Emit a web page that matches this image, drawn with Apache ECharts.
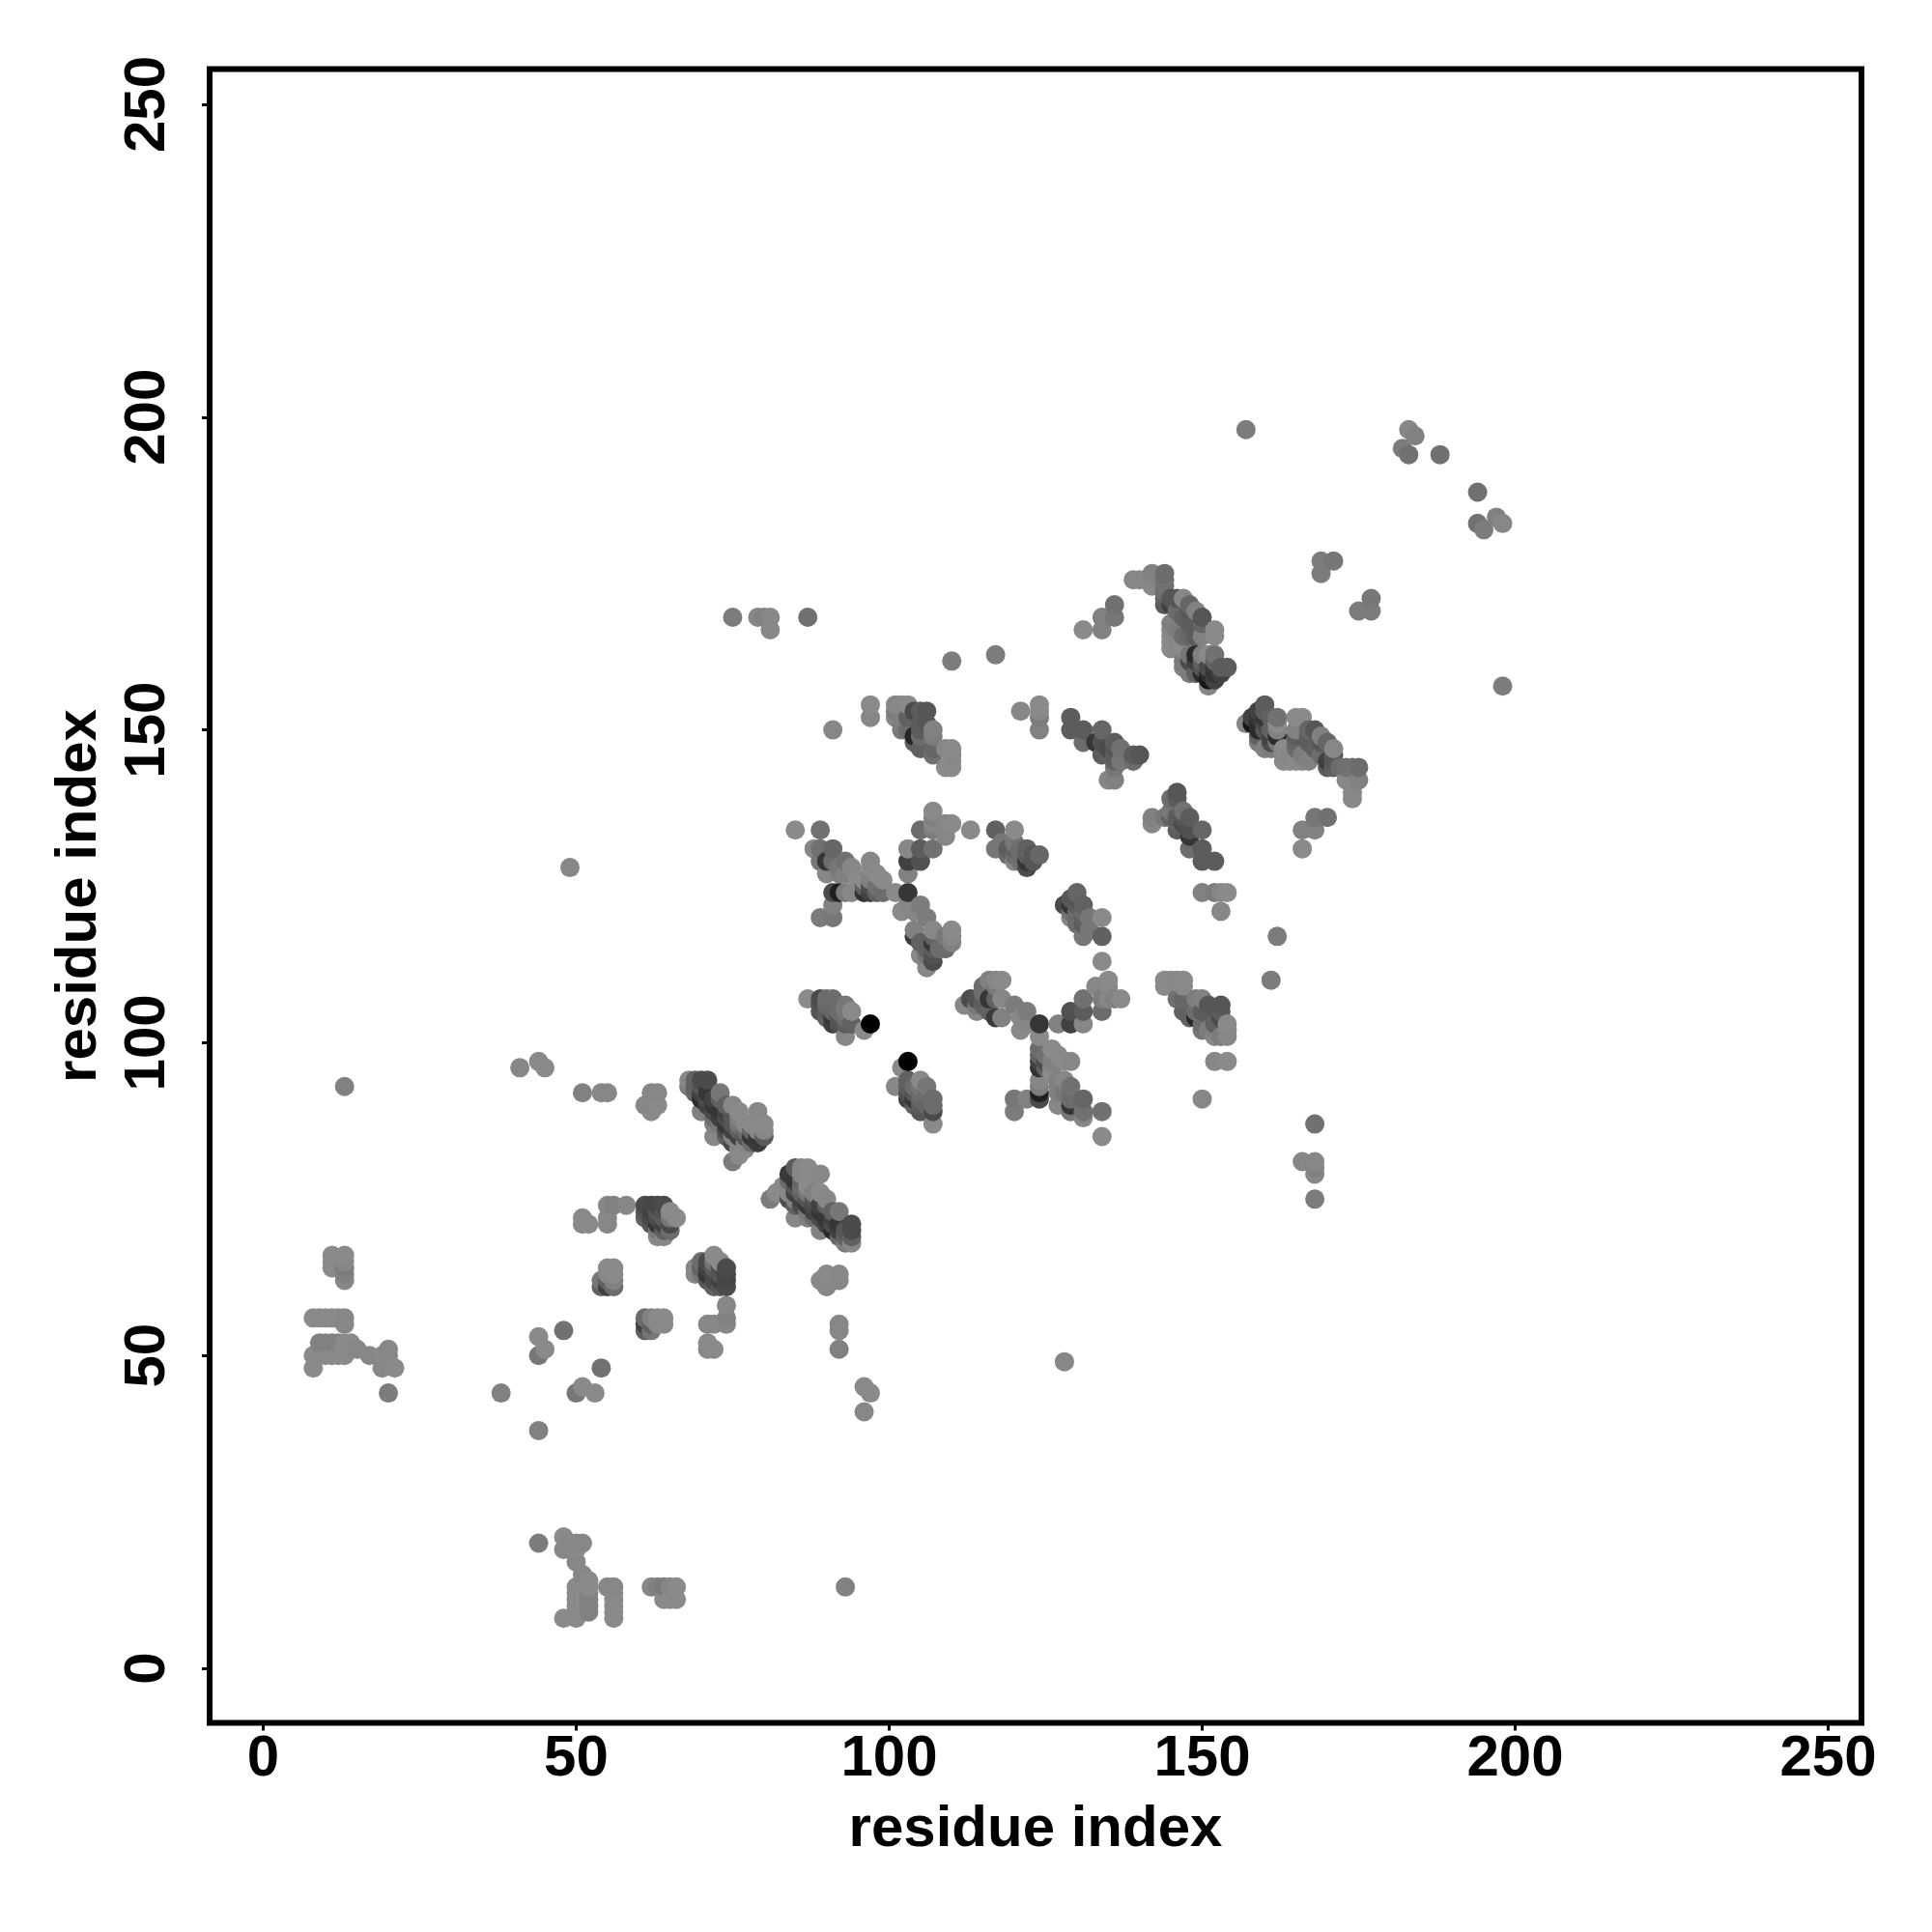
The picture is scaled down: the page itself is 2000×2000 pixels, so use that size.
<!DOCTYPE html>
<html><head><meta charset="utf-8">
<style>html,body{margin:0;padding:0;background:#fff}#c{width:2000px;height:2000px}</style>
<script src="https://cdn.jsdelivr.net/npm/echarts@6/dist/echarts.min.js"></script>
</head><body><div id="c"></div>
<script>
const axisTicks = [0, 50, 100, 150, 200, 250];
const axisTitle = 'residue index';
// contacts: [residue i, residue j, level]; the map shows every contact at (i,j) and (j,i)
const contactsTermini = [[8,48,135],[8,50,135],[8,56,130],[9,50,130],[9,52,120],[9,56,130],[10,50,130],[10,52,120],[10,56,130],[11,50,130],[11,52,120],[11,56,130],[11,64,130],[11,65,130],[11,66,135],[12,50,130],[12,52,120],[12,56,130],[13,50,130],[13,51,130],[13,52,135],[13,55,125],[13,56,125],[13,62,125],[13,63,120],[13,64,115],[13,65,125],[13,66,135],[13,93,120],[14,52,130],[15,51,125],[17,50,125],[19,48,125],[19,50,130],[20,44,115],[20,49,125],[20,50,125],[20,51,125],[21,48,130],[38,44,120],[44,50,110],[44,53,130],[45,51,130],[48,54,105],[41,96,125],[44,97,130],[45,96,130],[49,128,125]];
const contactsLow = [[51,71,125],[51,72,130],[52,71,130],[55,71,125],[55,72,125],[55,74,125],[56,74,120],[58,74,125],[54,61,90],[54,62,110],[55,61,60],[55,62,90],[55,63,125],[55,64,135],[56,61,100],[56,62,120],[56,63,130],[56,64,130],[51,92,120],[54,92,125],[55,92,125],[61,90,125],[62,89,130],[62,90,125],[62,92,125],[63,90,130],[63,92,125],[61,72,90],[61,73,80],[61,74,70],[62,71,80],[62,72,70],[62,73,60],[62,74,65],[63,69,125],[63,70,110],[63,71,50],[63,72,70],[63,73,80],[63,74,65],[64,69,125],[64,70,90],[64,71,60],[64,72,85],[64,73,75],[64,74,70],[65,70,100],[65,71,70],[65,72,110],[65,73,130],[66,72,130]];
const contactsHairpin = [[68,93,115],[68,94,125],[69,92,95],[69,93,90],[69,94,90],[70,89,120],[70,91,40],[70,92,60],[70,93,80],[70,94,70],[71,90,60],[71,91,70],[71,92,50],[71,94,70],[72,85,125],[72,87,120],[72,88,100],[72,89,70],[72,90,50],[72,91,60],[73,87,110],[73,88,60],[73,89,50],[73,91,90],[73,92,110],[74,85,90],[74,86,70],[74,87,50],[74,88,70],[74,89,60],[74,90,90],[75,81,115],[75,84,70],[75,85,120],[75,86,60],[75,87,80],[75,88,80],[75,90,125],[76,82,130],[76,83,135],[76,84,125],[76,85,60],[76,86,90],[76,87,110],[76,88,120],[76,89,130],[77,83,130],[77,84,125],[77,85,80],[77,86,100],[77,87,130],[78,84,100],[78,85,50],[78,86,95],[78,87,130],[79,84,55],[79,85,50],[79,86,125],[79,87,130],[79,89,125],[80,85,85],[80,86,125],[80,87,130]];
const contactsMiddle = [[85,134,135],[89,134,105],[87,107,135],[89,105,80],[89,106,80],[89,107,70],[90,104,90],[90,105,85],[90,106,95],[90,107,100],[91,103,60],[91,104,50],[91,105,95],[91,107,100],[92,103,75],[92,104,80],[92,105,100],[92,106,100],[93,101,125],[93,103,85],[93,104,100],[93,105,110],[93,106,110],[94,103,90],[94,105,135],[96,102,130],[97,103,0],[88,131,125],[89,120,115],[89,129,110],[89,131,105],[90,127,125],[90,129,50],[91,120,110],[91,122,120],[91,124,70],[91,129,100],[91,131,95],[91,150,125],[92,124,30],[92,127,120],[92,128,110],[93,124,115],[93,127,120],[93,129,105],[94,124,125],[94,127,120],[94,128,125],[95,126,130],[96,124,45],[96,125,90],[96,126,130],[97,124,60],[97,125,70],[97,126,120],[97,127,120],[97,128,130],[97,129,125],[98,124,90],[98,125,105],[98,127,130],[99,124,100],[99,126,130],[101,124,130],[102,121,130],[103,122,125],[103,124,50],[103,127,120],[103,129,60],[103,131,125],[104,117,55],[104,118,120],[104,121,125],[105,114,125],[105,116,90],[105,122,115],[105,129,75],[105,131,85],[105,134,100],[106,112,125],[106,114,110],[106,115,90],[106,120,115],[107,113,70],[107,114,75],[107,115,85],[107,116,50],[107,117,90],[107,118,125],[107,131,105],[107,134,115],[107,135,125],[107,136,120],[107,137,130],[108,115,100],[109,115,100],[109,117,110],[109,133,125],[109,135,125],[110,116,120],[110,117,125],[110,118,130],[110,135,130],[113,134,130],[117,134,90],[120,134,135],[117,131,110],[118,132,110],[119,130,100],[119,131,85],[120,129,125],[120,130,100],[120,131,90],[120,132,110],[121,129,105],[121,130,100],[121,131,100],[122,128,70],[122,129,50],[122,130,85],[122,131,90],[123,129,80],[123,130,80],[124,130,95]];
const contactsUpper = [[121,153,125],[124,150,120],[124,152,115],[124,153,125],[124,154,130],[129,150,85],[129,152,85],[131,148,100],[131,150,85],[133,148,50],[134,146,85],[134,148,75],[134,150,95],[135,142,125],[135,146,90],[135,147,70],[136,142,120],[136,144,110],[136,145,90],[136,146,85],[136,147,80],[136,148,85],[137,145,110],[137,147,105],[139,145,100],[139,146,85],[140,146,80],[97,152,125],[97,154,135],[101,152,125],[101,153,115],[101,154,125],[102,150,110],[102,151,115],[102,152,120],[102,154,125],[103,150,100],[103,152,90],[103,154,130],[104,148,90],[104,149,35],[104,153,70],[105,147,90],[105,149,100],[105,150,85],[105,151,85],[105,153,85],[106,151,80],[106,153,80],[107,146,105],[107,147,95],[107,149,115],[107,150,120],[109,144,130],[109,147,125],[110,144,135],[110,145,130],[110,146,125],[110,147,130],[110,161,115],[117,162,115],[75,168,115],[79,168,125],[80,168,120],[81,166,125],[81,168,125],[87,168,105]];
const contactsTop = [[131,166,130],[134,166,120],[134,168,120],[136,168,110],[136,170,105],[139,174,125],[140,174,125],[142,173,125],[142,175,120],[144,170,85],[144,171,90],[144,172,100],[144,173,105],[144,174,105],[144,175,100],[145,163,130],[145,164,130],[145,165,130],[145,166,125],[145,167,120],[145,170,60],[145,171,80],[146,163,125],[146,164,125],[146,166,115],[146,169,100],[146,171,80],[147,160,120],[147,161,115],[147,163,130],[147,165,100],[147,168,90],[147,171,125],[148,159,115],[148,161,70],[148,162,110],[148,165,95],[148,167,85],[148,169,80],[148,170,95],[149,159,90],[149,161,60],[149,162,40],[149,165,85],[149,167,85],[149,169,120],[150,159,40],[150,160,80],[150,161,90],[150,162,120],[150,165,120],[150,167,95],[150,168,80],[151,157,125],[151,158,20],[151,159,40],[151,160,70],[151,162,135],[152,158,60],[152,159,50],[152,160,50],[152,161,90],[152,162,105],[152,165,130],[152,166,135],[153,159,60],[153,160,85],[154,160,85],[157,198,115],[182,195,115],[183,194,105],[183,198,125],[184,197,120],[188,194,105],[169,175,115],[169,177,115],[171,177,110]];

const contacts = [].concat(contactsTermini, contactsLow, contactsHairpin, contactsMiddle, contactsUpper, contactsTop);
const points = [];
contacts.forEach(c => { points.push([c[0], c[1], c[2]]); points.push([c[1], c[0], c[2]]); });
points.sort((a, b) => a[0] - b[0] || a[1] - b[1]);

const font = '"Liberation Sans", Arial, sans-serif';
const axisCommon = {
  type: 'value', interval: 50, splitLine: {show: false},
  axisLine: {show: false, onZero: false},
  axisTick: {show: true, customValues: axisTicks, length: 8, lineStyle: {color: '#000', width: 3}},
  name: axisTitle, nameLocation: 'middle', nameMoveOverlap: false,
  nameTextStyle: {fontFamily: font, fontWeight: 'bold', fontSize: 60, color: '#000'}
};
const label = {show: true, customValues: axisTicks, fontFamily: font, fontWeight: 'bold', fontSize: 60, color: '#000'};
const chart = echarts.init(document.getElementById('c'), null, {renderer: 'canvas'});
chart.setOption({
  animation: false, backgroundColor: '#fff',
  grid: {left: 217, top: 71.5, width: 1710, height: 1712, show: true, borderColor: '#000', borderWidth: 6, backgroundColor: 'transparent'},
  xAxis: Object.assign({}, axisCommon, {min: -8.56, max: 255.33, nameGap: 81, axisLabel: Object.assign({}, label, {margin: 8})}),
  yAxis: Object.assign({}, axisCommon, {min: -8.72, max: 255.63, nameGap: 105, axisLabel: Object.assign({}, label, {rotate: 90, margin: 34})}),
  visualMap: {show: false, type: 'continuous', dimension: 2, min: 0, max: 128, inRange: {color: ['#000000', '#8a8a8a']}},
  series: [{type: 'scatter', data: points, symbol: 'circle', symbolSize: 20, large: false, progressive: 0, itemStyle: {opacity: 1}, silent: true, z: 1}]
});
</script></body></html>
